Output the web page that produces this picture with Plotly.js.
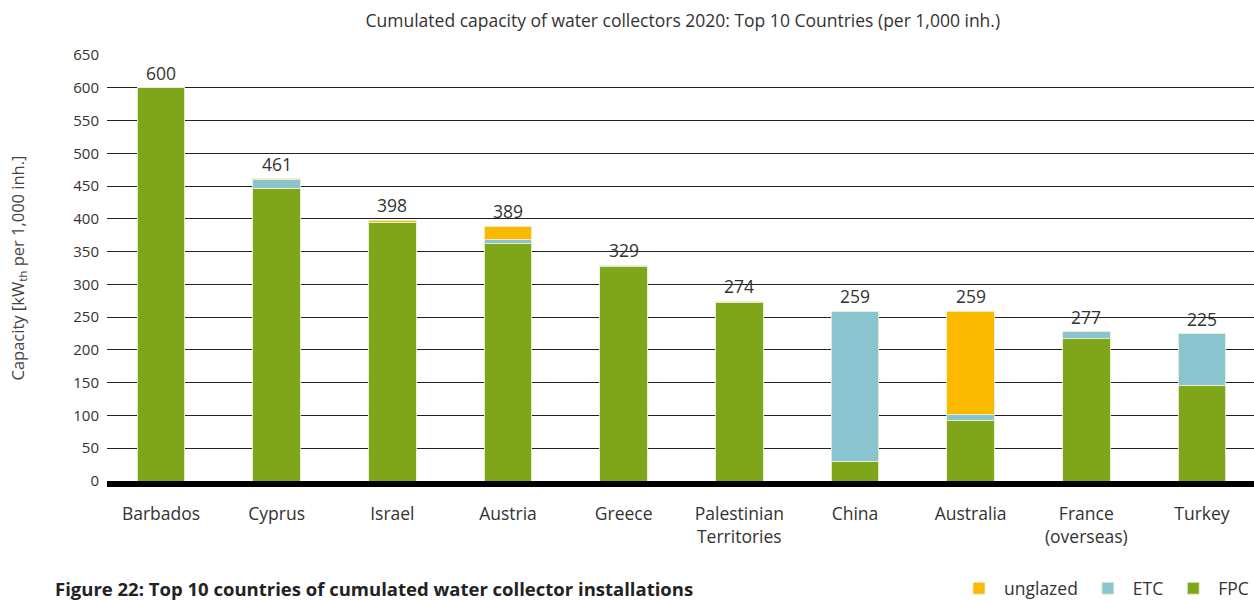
<!DOCTYPE html>
<html>
<head>
<meta charset="utf-8">
<script src="https://cdn.plot.ly/plotly-3.0.1.min.js"></script>
<style>
  html, body { margin: 0; padding: 0; background: #fff; }
  #chart { width: 1254px; height: 601px; }
</style>
</head>
<body>
<div id="chart"></div>
<script>
// ---- data ----
const countries = ["Barbados", "Cyprus", "Israel", "Austria", "Greece",
  "Palestinian<br>Territories", "China", "Australia", "France<br>(overseas)", "Turkey"];
const fpc      = [600, 447, 395, 362, 327, 272, 30, 93, 217, 146];
const etc      = [0, 12.5, 0, 6, 2, 2, 229, 8, 11, 79];
const unglazed = [0, 1.5, 3, 21, 0, 0, 0, 158, 0, 0];
const totalLabels = ["600", "461", "398", "389", "329", "274", "259", "259", "277", "225"];
const yTicks = [0, 50, 100, 150, 200, 250, 300, 350, 400, 450, 500, 550, 600, 650];

const FONT = "'Open Sans', sans-serif";
const idx = countries.map((_, i) => i);

const edge = { color: "rgba(235,240,210,0.9)", width: 1 };
function barTrace(name, values, color) {
  return { type: "bar", name: name, x: idx, y: values, width: 0.41,
           marker: { color: color, line: edge }, hoverinfo: "y+name" };
}

const traces = [
  barTrace("FPC", fpc, "#7fa51a"),
  barTrace("ETC", etc, "#8ac4cf"),
  barTrace("unglazed", unglazed, "#fbb900")
];

const annotations = idx.map(i => ({
  x: i, y: fpc[i] + etc[i] + unglazed[i],
  xref: "x", yref: "y",
  text: totalLabels[i], showarrow: false,
  yanchor: "bottom", yshift: 1,
  font: { family: FONT, size: 17.5, color: "#333" }
}));

annotations.push({
  xref: "paper", yref: "paper", x: -0.047, y: -0.252,
  xanchor: "left", yanchor: "middle",
  text: "<b>Figure 22: Top 10 countries of cumulated water collector installations</b>",
  showarrow: false,
  font: { family: FONT, size: 18.5, color: "#222" }
});

const layout = {
  width: 1254, height: 601,
  margin: { l: 107, r: 0, t: 55, b: 120, autoexpand: false },
  paper_bgcolor: "#fff", plot_bgcolor: "#fff",
  barmode: "stack",
  font: { family: FONT, color: "#333" },
  title: {
    text: "Cumulated capacity of water collectors 2020: Top 10 Countries (per 1,000 inh.)",
    x: 0.5445, xanchor: "center", y: 0.966, yanchor: "middle",
    font: { family: FONT, size: 17.5, color: "#333" }
  },
  xaxis: {
    range: [-0.467, 9.45],
    tickmode: "array", tickvals: idx, ticktext: countries,
    showgrid: false, zeroline: false,
    showline: true, linecolor: "#000", linewidth: 6,
    ticks: "", ticklabelstandoff: 12, automargin: false,
    tickfont: { family: FONT, size: 17.5, color: "#333" },
    fixedrange: true
  },
  yaxis: {
    range: [0, 650],
    tickmode: "array", tickvals: yTicks,
    showgrid: true, gridcolor: "#222", gridwidth: 1,
    zeroline: false, showline: false, automargin: false,
    ticks: "", ticklabelstandoff: 7,
    tickfont: { family: FONT, size: 15, color: "#333" },
    title: {
      text: "Capacity [kW<sub>th</sub> per 1,000 inh.]",
      standoff: 44,
      font: { family: FONT, size: 16.5, color: "#444" }
    },
    fixedrange: true
  },
  legend: {
    orientation: "h", traceorder: "reversed",
    x: 1.0, xanchor: "right", y: -0.252, yanchor: "middle",
    font: { family: FONT, size: 17.5, color: "#333" },
    itemwidth: 40, bgcolor: "rgba(0,0,0,0)"
  },
  annotations: annotations,
  showlegend: true
};

Plotly.newPlot("chart", traces, layout, { displayModeBar: false, staticPlot: true });
</script>
</body>
</html>
